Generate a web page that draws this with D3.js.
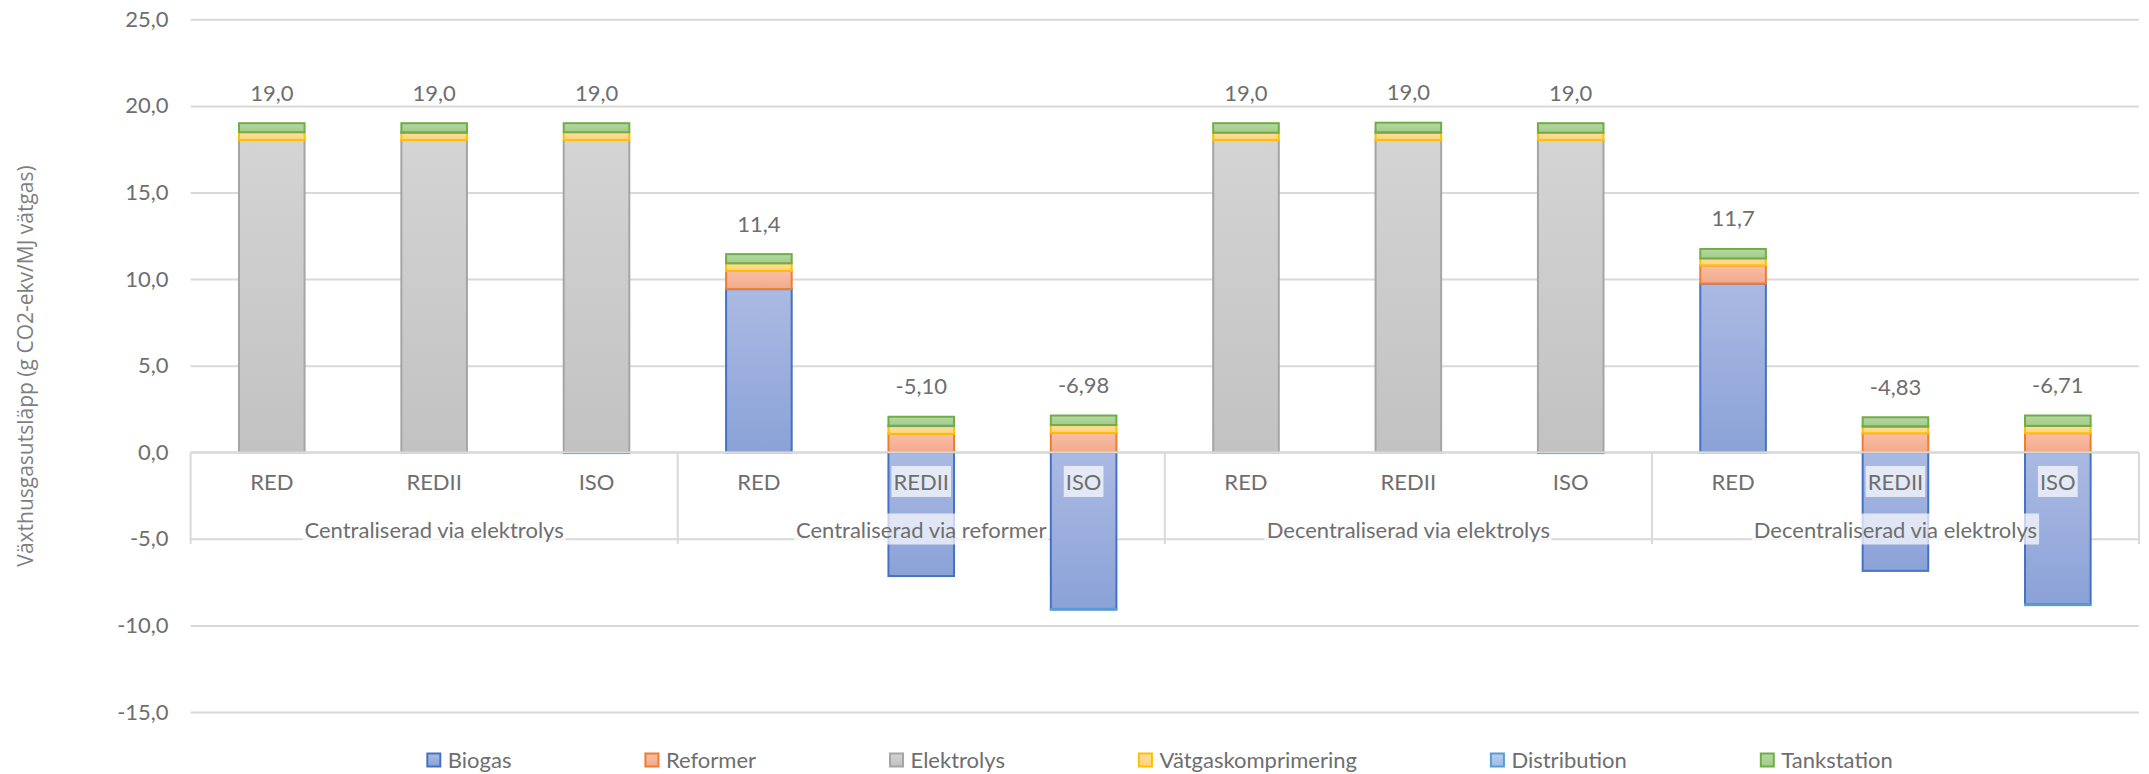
<!DOCTYPE html>
<html>
<head>
    <meta charset="UTF-8">
    <title>Växthusgasutsläpp vätgas</title>
    <script src="https://cdnjs.cloudflare.com/ajax/libs/d3/7.8.5/d3.min.js"></script>
    <style>
        body {
            margin: 0;
            background: #fff;
        }

        svg text {
            font-family: Lato, "Open Sans", sans-serif;
            font-size: 22px;
            fill: #6e6e6e;
        }

        .grid line {
            stroke: #d9d9d9;
            stroke-width: 2px;
        }

        .axis-title {
            font-family: "Open Sans", sans-serif !important;
            font-size: 21px !important;
            fill: #7f7f7f !important;
        }
    </style>
</head>
<body>
    <div id="chart"></div>

    <script>
        const groups = ["Centraliserad via elektrolys", "Centraliserad via reformer", "Decentraliserad via elektrolys", "Decentraliserad via elektrolys"];
        const methods = ["RED", "REDII", "ISO"];

        const seriesNames = ["Biogas", "Reformer", "Elektrolys", "Vätgaskomprimering", "Distribution", "Tankstation"];

        // one value per bar, 12 bars (4 groups x 3 methods)
        const biogas      = [0, 0, 0, 9.42, -7.15, -9.05, 0, 0, 0, 9.74, -6.85, -8.78];
        const reformer    = [0, 0, 0, 1.05, 1.06, 1.12, 0, 0, 0, 1.05, 1.10, 1.10];
        const elektrolys  = [18.03, 18.03, 18.03, 0, 0, 0, 18.03, 18.03, 18.03, 0, 0, 0];
        const komprimering = [0.45, 0.42, 0.45, 0.44, 0.45, 0.45, 0.42, 0.42, 0.42, 0.40, 0.38, 0.42];
        const distribution = [0, 0.03, -0.05, 0, 0.02, -0.05, 0, 0.03, -0.05, 0, 0.02, -0.05];
        const tankstation = [0.52, 0.52, 0.52, 0.53, 0.52, 0.55, 0.55, 0.55, 0.55, 0.55, 0.52, 0.60];

        const totalLabels = ["19,0", "19,0", "19,0", "11,4", "-5,10", "-6,98", "19,0", "19,0", "19,0", "11,7", "-4,83", "-6,71"];

        const yTicks = [-15, -10, -5, 0, 5, 10, 15, 20, 25];

        const colors = {
            "Biogas":             { top: "#abbae2", bottom: "#8ba2d8", stroke: "#4472c4" },
            "Reformer":           { top: "#f7bfa7", bottom: "#f4a98a", stroke: "#ed7d31" },
            "Elektrolys":         { top: "#d4d4d4", bottom: "#c2c2c2", stroke: "#a5a5a5" },
            "Vätgaskomprimering": { top: "#ffdd9b", bottom: "#ffd47f", stroke: "#ffc000" },
            "Distribution":       { top: "#b6cfec", bottom: "#9cbfe6", stroke: "#5b9bd5" },
            "Tankstation":        { top: "#b6d8a2", bottom: "#a2cc89", stroke: "#70ad47" }
        };

        const seriesValues = [biogas, reformer, elektrolys, komprimering, distribution, tankstation];

        const bars = d3.range(groups.length * methods.length).map(i => {
            const row = { index: i, group: Math.floor(i / 3), method: methods[i % 3] };
            seriesNames.forEach((name, s) => row[name] = seriesValues[s][i]);
            return row;
        });

        const width = 2149;
        const height = 774;
        const plot = { left: 190.6, right: 2139, top: 19.3, bottom: 712 };

        const svg = d3.select("#chart")
            .append("svg")
            .attr("width", width)
            .attr("height", height);

        const defs = svg.append("defs");
        seriesNames.forEach((name, i) => {
            const grad = defs.append("linearGradient")
                .attr("id", "grad" + i)
                .attr("x1", 0).attr("y1", 0)
                .attr("x2", 0).attr("y2", 1);
            grad.append("stop").attr("offset", "0%").attr("stop-color", colors[name].top);
            grad.append("stop").attr("offset", "100%").attr("stop-color", colors[name].bottom);
        });

        const x = d3.scaleBand()
            .domain(bars.map(d => d.index))
            .range([plot.left, plot.right])
            .padding(0);

        const barWidth = x.bandwidth() * 0.404;

        const y = d3.scaleLinear()
            .domain([-15, 25])
            .range([plot.bottom, plot.top]);

        const sv = d3.formatLocale({ decimal: ",", thousands: " ", grouping: [3], currency: ["", " kr"], minus: "-" });
        const fmt = sv.format(".1f");

        // gridlines + y tick labels
        const yAxis = d3.axisLeft(y)
            .tickValues(yTicks)
            .tickSize(-(plot.right - plot.left))
            .tickPadding(22)
            .tickFormat(fmt);

        svg.append("g")
            .attr("class", "grid")
            .attr("transform", `translate(${plot.left},0)`)
            .call(yAxis)
            .call(g => g.select(".domain").remove())
            .call(g => g.selectAll("text")
                .attr("font-family", null)
                .attr("font-size", null)
                .attr("fill", null));

        // stacked bars
        const stack = d3.stack()
            .keys(seriesNames)
            .offset(d3.stackOffsetDiverging);

        const layers = stack(bars);

        svg.append("g")
            .selectAll("g")
            .data(layers)
            .join("g")
            .attr("fill", (d, i) => `url(#grad${i})`)
            .attr("stroke", d => colors[d.key].stroke)
            .attr("stroke-width", 2)
            .selectAll("rect")
            .data(d => d.filter(p => p[1] !== p[0]))
            .join("rect")
            .attr("x", d => x(d.data.index) + (x.bandwidth() - barWidth) / 2)
            .attr("y", d => y(Math.max(d[0], d[1])))
            .attr("width", barWidth)
            .attr("height", d => Math.abs(y(d[0]) - y(d[1])));

        // zero line
        svg.append("line")
            .attr("x1", plot.left)
            .attr("x2", plot.right)
            .attr("y1", y(0))
            .attr("y2", y(0))
            .attr("stroke", "#d9d9d9")
            .attr("stroke-width", 2);

        // group separators
        const sepX = d3.range(0, 12, 3).map(i => x(i)).concat([plot.right]);
        svg.append("g")
            .selectAll("line")
            .data(sepX)
            .join("line")
            .attr("x1", d => d)
            .attr("x2", d => d)
            .attr("y1", y(0))
            .attr("y2", 544)
            .attr("stroke", "#d9d9d9")
            .attr("stroke-width", 2);

        // labels with a semi transparent box behind them
        function boxedLabel(parent, text, cx, baseline) {
            const g = parent.append("g");
            const rect = g.append("rect").attr("fill", "rgba(255,255,255,0.7)");
            const t = g.append("text")
                .attr("x", cx)
                .attr("y", baseline)
                .attr("text-anchor", "middle")
                .text(text);
            const bb = t.node().getBBox();
            rect.attr("x", bb.x - 2)
                .attr("y", bb.y - 2)
                .attr("width", bb.width + 4)
                .attr("height", bb.height + 4);
        }

        const labelLayer = svg.append("g");
        bars.forEach(d => boxedLabel(labelLayer, d.method, x(d.index) + x.bandwidth() / 2, 490));
        groups.forEach((name, g) => {
            const cx = (x(g * 3) + x(g * 3 + 2) + x.bandwidth()) / 2;
            boxedLabel(labelLayer, name, cx, 537.5);
        });

        // total labels above the positive stack
        svg.append("g")
            .selectAll("text")
            .data(bars)
            .join("text")
            .attr("x", d => x(d.index) + x.bandwidth() / 2)
            .attr("y", d => y(d3.sum(seriesNames, k => Math.max(0, d[k]))) - 22.5)
            .attr("text-anchor", "middle")
            .text((d, i) => totalLabels[i]);

        // y axis title
        svg.append("text")
            .attr("class", "axis-title")
            .attr("transform", `translate(33, 366) rotate(-90)`)
            .attr("text-anchor", "middle")
            .text("Växthusgasutsläpp (g CO2-ekv/MJ vätgas)");

        // legend
        const legend = svg.append("g");
        const items = legend.selectAll("g")
            .data(seriesNames)
            .join("g");

        items.append("rect")
            .attr("width", 13)
            .attr("height", 13)
            .attr("y", 753.5)
            .attr("fill", (d, i) => `url(#grad${i})`)
            .attr("stroke", d => colors[d].stroke)
            .attr("stroke-width", 2);

        items.append("text")
            .attr("x", 20.5)
            .attr("y", 767.5)
            .text(d => d);

        let pos = 0;
        const offsets = [];
        items.each(function () {
            offsets.push(pos);
            const w = d3.select(this).select("text").node().getComputedTextLength();
            pos += 20.5 + w + 134;
        });
        const legendWidth = pos - 134;
        const legendStart = 1160 - legendWidth / 2;
        items.attr("transform", (d, i) => `translate(${legendStart + offsets[i]},0)`);
    </script>
</body>
</html>
